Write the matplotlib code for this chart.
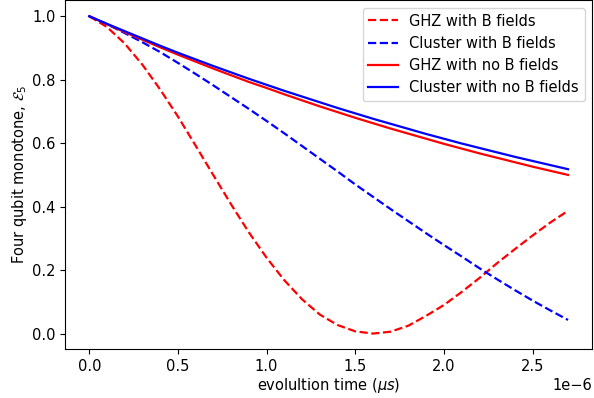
import numpy as np
import matplotlib
matplotlib.use("Agg")
import matplotlib.pyplot as plt

plt.rcParams['font.size'] = 10.5
plt.rcParams['lines.linewidth'] = 1.6

# evolution time in microseconds (plotted in seconds)
t_us = [0.0, 0.1, 0.2, 0.3, 0.4, 0.5, 0.6, 0.7, 0.8, 0.9,
        1.0, 1.1, 1.2, 1.3, 1.4, 1.5, 1.6, 1.7, 1.8, 1.9,
        2.0, 2.1, 2.2, 2.3, 2.4, 2.5, 2.6, 2.7]

ghz_b = [1.000, 0.966, 0.914, 0.847, 0.769, 0.684, 0.592, 0.499, 0.407, 0.319,
         0.239, 0.168, 0.108, 0.060, 0.027, 0.007, 0.000, 0.006, 0.025, 0.056,
         0.090, 0.131, 0.175, 0.222, 0.266, 0.309, 0.350, 0.387]

cluster_b = [1.000, 0.975, 0.947, 0.918, 0.887, 0.853, 0.818, 0.782, 0.745, 0.708,
             0.670, 0.631, 0.591, 0.551, 0.511, 0.470, 0.431, 0.392, 0.354, 0.316,
             0.279, 0.243, 0.206, 0.171, 0.137, 0.104, 0.073, 0.043]

ghz_nob = [1.000, 0.975, 0.950, 0.926, 0.902, 0.879, 0.857, 0.835, 0.814, 0.793,
           0.774, 0.754, 0.735, 0.716, 0.698, 0.680, 0.663, 0.646, 0.630, 0.614,
           0.598, 0.583, 0.568, 0.554, 0.540, 0.526, 0.513, 0.500]

cluster_nob = [1.000, 0.976, 0.953, 0.930, 0.907, 0.885, 0.864, 0.843, 0.823, 0.803,
               0.784, 0.765, 0.747, 0.729, 0.711, 0.694, 0.677, 0.661, 0.645, 0.629,
               0.614, 0.599, 0.585, 0.571, 0.557, 0.544, 0.531, 0.518]

t = np.array(t_us) * 1e-6

fig = plt.figure(figsize=(5.94, 3.98), dpi=100)
ax = fig.add_axes([0.110, 0.122, 0.8866, 0.877])

ax.plot(t, ghz_b, 'r--', label='GHZ with B fields')
ax.plot(t, cluster_b, 'b--', label='Cluster with B fields')
ax.plot(t, ghz_nob, 'r-', label='GHZ with no B fields')
ax.plot(t, cluster_nob, 'b-', label='Cluster with no B fields')

ax.set_xlabel(r'evolultion time ($\mu s$)', labelpad=1.5)
ax.set_ylabel(r'Four qubit monotone, $\mathcal{E}_5$', labelpad=2.5)
ax.legend(loc='upper right')

fig.savefig('out.png', dpi=100)
